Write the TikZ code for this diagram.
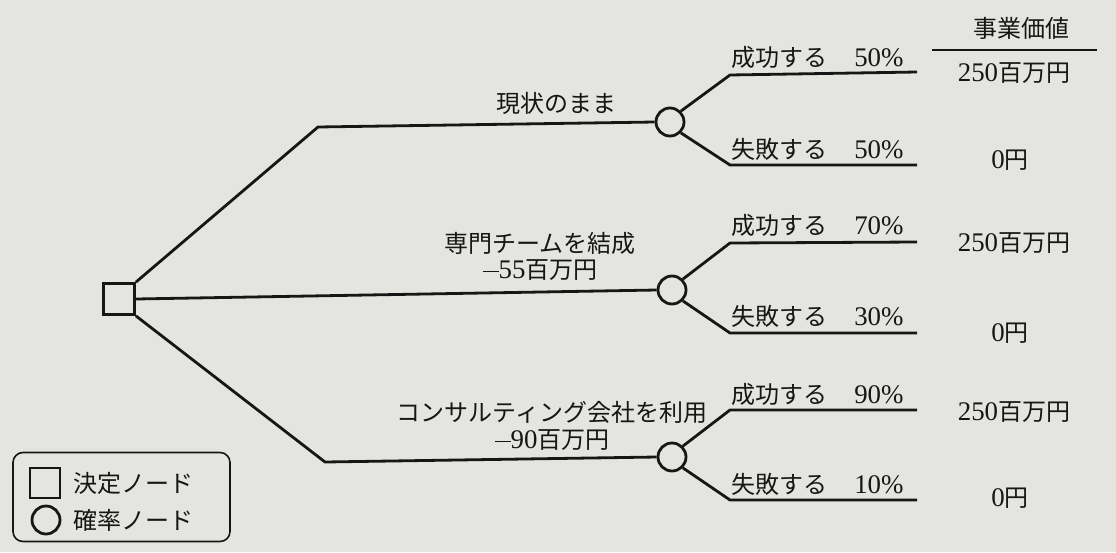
\documentclass[tikz,border=0pt]{standalone}
\usepackage{fontspec}
\setmainfont{Liberation Serif}[Scale=1.12]
\newfontfamily\jp{Noto Sans CJK JP}
\definecolor{paper}{RGB}{228,228,225}
\definecolor{ink}{RGB}{22,22,22}
\begin{document}
\begin{tikzpicture}[x=1pt,y=-1pt,
  line width=2.8pt, draw=ink,
  every node/.style={text=ink, font=\fontsize{24}{28}\selectfont},
  dec/.style={draw=ink, line width=2.8pt, minimum size=31pt, inner sep=0pt, shape=rectangle},
  chance/.style={draw=ink, line width=2.8pt, circle, minimum size=28pt, inner sep=0pt},
  lbl/.style={inner sep=0pt, anchor=south west},
  val/.style={inner sep=0pt},
  edge/.style={draw=ink, line width=2.8pt, line join=round}]
\fill[paper] (0,0) rectangle (1116,552);
\useasboundingbox (0,0) rectangle (1116,552);

% nodes
\node[dec] (d) at (119,299) {};
\node[chance] (c1) at (670,122) {};
\node[chance] (c2) at (672,290) {};
\node[chance] (c3) at (672,457) {};

\coordinate (k1) at (318,127);
\coordinate (k3) at (325,462);

\draw[edge] (d.north east) -- (k1) -- (c1.west);
\draw[edge] (d.east) -- (c2.west);
\draw[edge] (d.south east) -- (k3) -- (c3.west);

% branch coordinates
\coordinate (u1) at (730,75);  \coordinate (ue1) at (917,72);
\coordinate (l1) at (730,165); \coordinate (le1) at (917,165);
\coordinate (u2) at (730,243); \coordinate (ue2) at (917,242);
\coordinate (l2) at (730,333); \coordinate (le2) at (917,333);
\coordinate (u3) at (730,410); \coordinate (ue3) at (917,410);
\coordinate (l3) at (730,500); \coordinate (le3) at (917,500);

\draw[edge] (c1.north east) -- (u1) -- (ue1);
\draw[edge] (c1.south east) -- (l1) -- (le1);
\draw[edge] (c2.north east) -- (u2) -- (ue2);
\draw[edge] (c2.south east) -- (l2) -- (le2);
\draw[edge] (c3.north east) -- (u3) -- (ue3);
\draw[edge] (c3.south east) -- (l3) -- (le3);

% option labels
\node[val] (t1) at (556,103) {\jp 現状のまま};
\node[val] (t2) at (540,243) {\jp 専門チームを結成};
\node[val] (t2b) at (540,270) {\raisebox{0.5ex}{\rule{0.6em}{1.5pt}}55{\jp 百万円}};
\node[val] (t3) at (552,412) {\jp コンサルティング会社を利用};
\node[val] (t3b) at (552,440) {\raisebox{0.5ex}{\rule{0.6em}{1.5pt}}90{\jp 百万円}};

% probability labels
\node[lbl] (p1) at (730,70) {{\jp 成功する}\hspace{1em}50\%};
\node[lbl] (p2) at (730,162) {{\jp 失敗する}\hspace{1em}50\%};
\node[lbl] (p3) at (730,238) {{\jp 成功する}\hspace{1em}70\%};
\node[lbl] (p4) at (730,329) {{\jp 失敗する}\hspace{1em}30\%};
\node[lbl] (p5) at (730,407) {{\jp 成功する}\hspace{1em}90\%};
\node[lbl] (p6) at (730,497) {{\jp 失敗する}\hspace{1em}10\%};

% value column
\node[val] (vh) at (1021,28) {\jp 事業価値};
\coordinate (h1) at (932,50);
\coordinate (h2) at (1097,50);
\draw[edge] (h1) -- (h2);
\node[val] (v1) at (1014,73) {250{\jp 百万円}};
\node[val] (v2) at (1010,160) {0{\jp 円}};
\node[val] (v3) at (1014,243) {250{\jp 百万円}};
\node[val] (v4) at (1010,333) {0{\jp 円}};
\node[val] (v5) at (1014,412) {250{\jp 百万円}};
\node[val] (v6) at (1010,498) {0{\jp 円}};

% legend
\node[draw=ink, line width=1.6pt, rounded corners=10pt, minimum width=217pt, minimum height=89pt, inner sep=0pt] (leg) at (121.5,497) {};
\node[dec, minimum size=30pt] (ls) at (45,483) {};
\node[chance] (lc) at (46,520) {};
\node[val, anchor=west] (lt1) at (72,483) {\jp 決定ノード};
\node[val, anchor=west] (lt2) at (72,520) {\jp 確率ノード};
\end{tikzpicture}
\end{document}
